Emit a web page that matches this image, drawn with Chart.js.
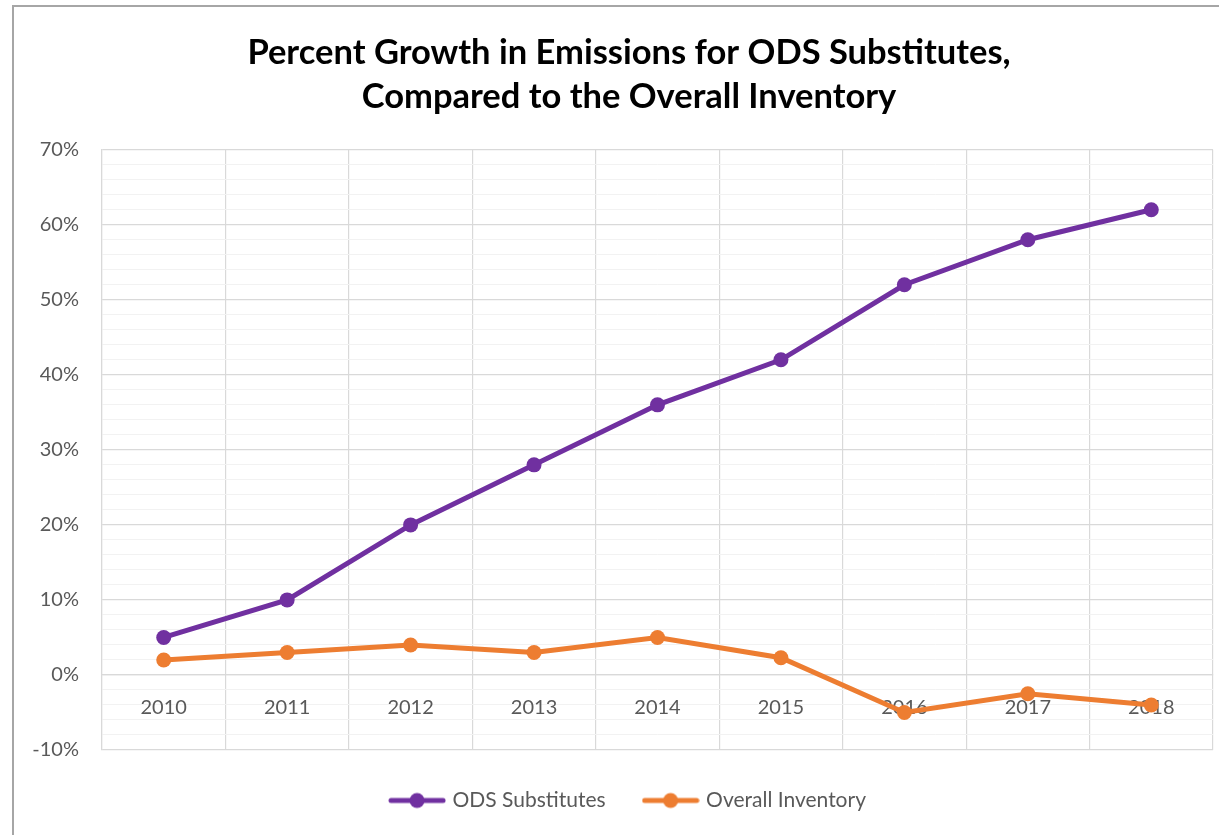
<!DOCTYPE html>
<html>
<head>
<meta charset="utf-8">
<script src="https://cdn.jsdelivr.net/npm/chart.js@4.4.1/dist/chart.umd.min.js"></script>
<style>
  html, body { margin: 0; padding: 0; background: #fff; overflow: hidden; }
  .frame {
    position: absolute; left: 12px; top: 5px;
    width: 1260px; height: 900px;
    border-top: 2px solid #a6a6a6; border-left: 2px solid #a6a6a6;
  }
  canvas { display: block; }
</style>
</head>
<body>
<div class="frame">
  <canvas id="chart" width="1230" height="828"></canvas>
</div>
<script>
// data
const years = ['2010', '2011', '2012', '2013', '2014', '2015', '2016', '2017', '2018'];
const odsSubstitutes = [5, 10, 20, 28, 36, 42, 52, 58, 62];
const overallInventory = [2, 3, 4, 3, 5, 2.3, -5, -2.5, -4];
const titleLines = ['Percent Growth in Emissions for ODS Substitutes,', 'Compared to the Overall Inventory'];

const purple = '#7030a0';
const orange = '#ed7d31';
const textGrey = '#595959';
const majorGrid = '#d9d9d9';
const minorGrid = '#f2f2f2';

// legend symbol: short line with a dot in the middle
function legendIcon(color) {
    const c = document.createElement('canvas');
    c.width = 58;
    c.height = 18;
    const g = c.getContext('2d');
    g.strokeStyle = color;
    g.lineWidth = 5;
    g.lineCap = 'round';
    g.beginPath();
    g.moveTo(3, 9);
    g.lineTo(55, 9);
    g.stroke();
    g.fillStyle = color;
    g.beginPath();
    g.arc(29, 9, 7.5, 0, Math.PI * 2);
    g.fill();
    return c;
}

function makeLine(label, data, color) {
    return {
        label,
        data,
        borderColor: color,
        backgroundColor: color,
        borderWidth: 5,
        pointRadius: 7.5,
        pointHoverRadius: 7.5,
        pointBorderWidth: 0,
        pointBackgroundColor: color,
        tension: 0,
    };
}

// title and legend are centred on the whole frame, not on the padded area
const recentre = {
    id: 'recentre',
    afterLayout(chart) {
        [chart.titleBlock, chart.legend].forEach((box) => {
            if (!box) return;
            box.left = 0;
            box.right = chart.width;
        });
    },
};

const ctx = document.getElementById('chart').getContext('2d');
new Chart(ctx, {
    type: 'line',
    data: {
        labels: years,
        datasets: [
            makeLine('ODS Substitutes', odsSubstitutes, purple),
            makeLine('Overall Inventory', overallInventory, orange),
        ],
    },
    plugins: [recentre],
    options: {
        responsive: false,
        animation: false,
        layout: { padding: { left: 0, right: 31, top: 0, bottom: 14 } },
        plugins: {
            title: {
                display: true,
                text: titleLines,
                color: '#000',
                font: { family: 'Lato', size: 34.5, weight: 'bold', lineHeight: 1.3 },
                padding: { top: 23, bottom: 30 },
            },
            legend: {
                position: 'bottom',
                labels: {
                    usePointStyle: true,
                    pointStyleWidth: 50,
                    padding: 40,
                    color: textGrey,
                    font: { family: 'Lato', size: 21 },
                    generateLabels(chart) {
                        return chart.data.datasets.map((ds, i) => ({
                            text: ds.label,
                            pointStyle: legendIcon(ds.borderColor),
                            fillStyle: ds.borderColor,
                            strokeStyle: ds.borderColor,
                            lineWidth: 0,
                            fontColor: textGrey,
                            hidden: false,
                            datasetIndex: i,
                        }));
                    },
                },
            },
            tooltip: { enabled: false },
        },
        scales: {
            x: {
                position: { y: 0 },
                offset: true,
                grid: {
                    offset: true,
                    color: majorGrid,
                    lineWidth: 1.2,
                    drawTicks: false,
                },
                border: { color: majorGrid, width: 1.2 },
                ticks: {
                    color: textGrey,
                    padding: 21,
                    font: { family: 'Lato', size: 20 },
                },
            },
            y: {
                min: -10,
                max: 70,
                grid: {
                    drawTicks: false,
                    color: (c) => (c.tick && c.tick.value % 10 === 0 ? majorGrid : minorGrid),
                    lineWidth: (c) => (c.tick && c.tick.value % 10 === 0 ? 1.2 : 1),
                },
                border: { color: majorGrid, width: 1.2 },
                ticks: {
                    stepSize: 2,
                    autoSkip: false,
                    padding: 23,
                    color: textGrey,
                    font: { family: 'Lato', size: 20 },
                    callback: (v) => (v % 10 === 0 ? v + '%' : ''),
                },
                afterFit(scale) {
                    scale.width = 88;
                },
            },
        },
    },
});
</script>
</body>
</html>
